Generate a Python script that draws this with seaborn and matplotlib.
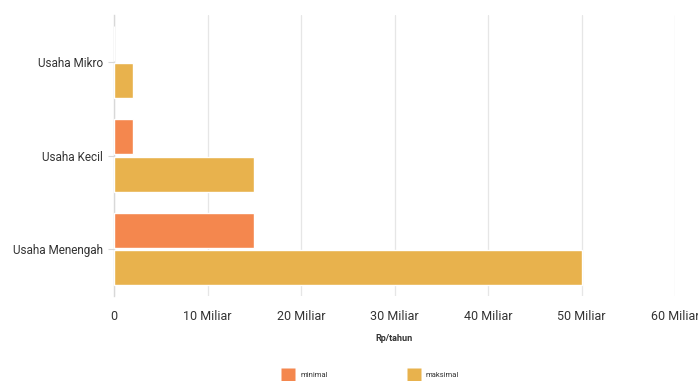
import matplotlib
matplotlib.use("Agg")
import matplotlib.pyplot as plt
import seaborn as sns
import pandas as pd
from matplotlib.lines import Line2D

categories = ["Usaha Mikro", "Usaha Kecil", "Usaha Menengah"]
minimal = [0, 2, 15]
maksimal = [2, 15, 50]
series_names = ["minimal", "maksimal"]
tick_values = [0, 10, 20, 30, 40, 50, 60]
tick_labels = ["0", "10 Miliar", "20 Miliar", "30 Miliar", "40 Miliar", "50 Miliar", "60 Miliar"]

colors = {"minimal": "#F4874E", "maksimal": "#E8B24D"}

df = pd.DataFrame({
    "kategori": categories * 2,
    "nilai": minimal + maksimal,
    "seri": [series_names[0]] * 3 + [series_names[1]] * 3,
})

sns.set_style("white")
plt.rcParams["font.family"] = ["Roboto", "DejaVu Sans"]

fig = plt.figure(figsize=(6.98, 3.81), dpi=100)
ax = fig.add_axes([114 / 698, 1 - 296 / 381, (675 - 114) / 698, (296 - 15) / 381])

sns.barplot(data=df, y="kategori", x="nilai", hue="seri", order=categories,
            hue_order=series_names, palette=colors, orient="h", width=0.8,
            gap=0.07, saturation=1, ax=ax, legend=False, zorder=3)

ax.set_xlim(0, 60)
ax.set_ylim(2.5, -0.5)
ax.set_xticks(tick_values)
ax.set_xticklabels(tick_labels)
ax.xaxis.grid(True, color="#E6E6E6", linewidth=0.9, zorder=0)
ax.set_axisbelow(True)
for s in ["top", "right", "bottom"]:
    ax.spines[s].set_visible(False)
ax.spines["left"].set_color("#D8D8D8")
ax.spines["left"].set_linewidth(1)
ax.tick_params(axis="x", length=0, pad=10, labelsize=9, labelcolor="#333333")
ax.tick_params(axis="y", length=4, width=0.8, color="#D8D8D8", pad=4,
               labelsize=8.5, labelcolor="#333333", left=True)
ax.set_ylabel("")
ax.set_xlabel("Rp/tahun", fontsize=6.5, fontweight="bold", color="#333333", labelpad=8)

handles = [Line2D([], [], linestyle="none", marker="s", markersize=10,
                  markerfacecolor=colors[n], markeredgecolor="none") for n in series_names]
fig.legend(handles, series_names, loc="center", bbox_to_anchor=(370 / 698, 1 - 375 / 381),
           ncol=2, frameon=False, fontsize=5.5, handlelength=1.9,
           handletextpad=0.6, columnspacing=10.3, labelcolor="#333333",
           borderpad=0)

fig.savefig("out.png", dpi=100)
